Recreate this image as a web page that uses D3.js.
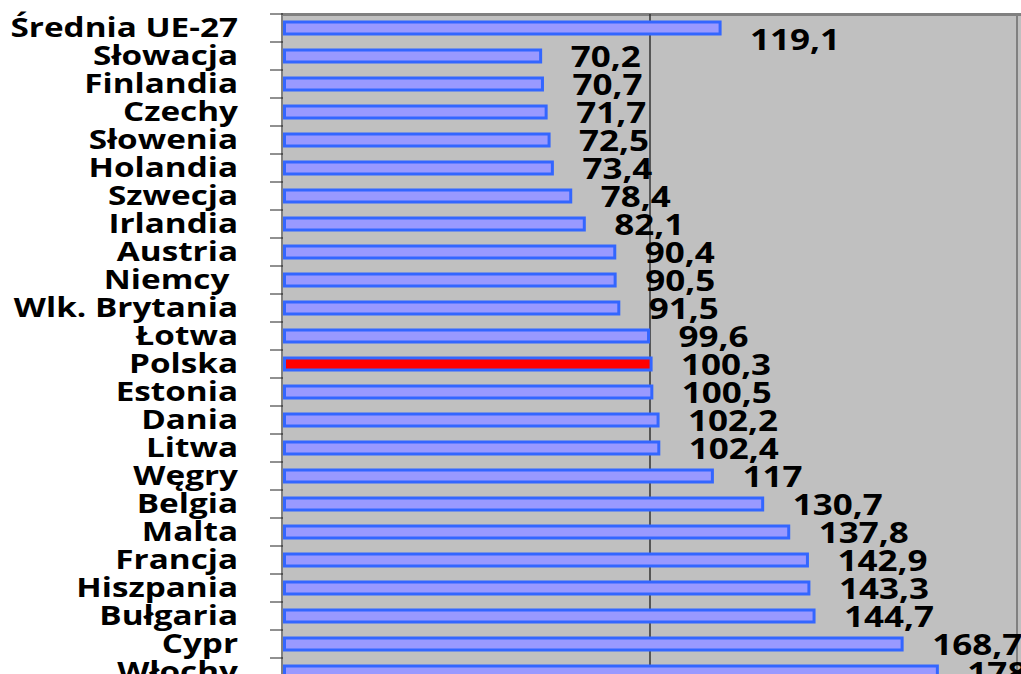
<!DOCTYPE html>
<html>
<head>
<meta charset="utf-8">
<script src="https://cdn.jsdelivr.net/npm/d3@7"></script>
<style>
  body { margin: 0; background: #fff; overflow: hidden; }
  svg text { font-family: "Open Sans", sans-serif; font-weight: 700; fill: #000; white-space: pre; }
</style>
</head>
<body>
<svg id="chart"></svg>
<script>
const countries = ['Średnia UE-27', 'Słowacja', 'Finlandia', 'Czechy', 'Słowenia', 'Holandia',
  'Szwecja', 'Irlandia', 'Austria', 'Niemcy ', 'Wlk. Brytania', 'Łotwa', 'Polska', 'Estonia',
  'Dania', 'Litwa', 'Węgry', 'Belgia', 'Malta', 'Francja', 'Hiszpania', 'Bułgaria', 'Cypr', 'Włochy']
const values = [119.1, 70.2, 70.7, 71.7, 72.5, 73.4, 78.4, 82.1, 90.4, 90.5, 91.5, 99.6, 100.3,
  100.5, 102.2, 102.4, 117, 130.7, 137.8, 142.9, 143.3, 144.7, 168.7, 178.3]
const gridValues = [100, 200]
const highlight = 'Polska'

const data = countries.map((c, i) => ({ name: c, value: values[i] }))

const width = 1021, height = 674

const svg = d3.select('#chart').attr('width', width).attr('height', height)

// scales
const x = d3.scaleLinear().domain([0, 200]).range([283, 1017])
const y = d3.scaleBand().domain(countries).range([14, 14 + 28 * countries.length])
const mid = d => y(d.name) + y.bandwidth() / 2

// plot background
svg.append('rect')
  .attr('x', x(0)).attr('y', 14)
  .attr('width', width - x(0)).attr('height', height - 14)
  .attr('fill', '#c0c0c0')

svg.append('rect')
  .attr('x', x(0)).attr('y', 13)
  .attr('width', width - x(0)).attr('height', 3)
  .attr('fill', '#808080')

// grid lines
svg.selectAll('.grid')
  .data(gridValues)
  .enter().append('line')
    .attr('class', 'grid')
    .attr('x1', d => x(d)).attr('x2', d => x(d))
    .attr('y1', 14).attr('y2', height)
    .attr('stroke', d => d === 100 ? '#333' : '#808080')
    .attr('stroke-width', d => d === 100 ? 1.5 : 2)

// left axis line + ticks between categories
svg.append('line')
  .attr('x1', x(0) - 1).attr('x2', x(0) - 1)
  .attr('y1', 13).attr('y2', height)
  .attr('stroke', '#808080').attr('stroke-width', 2)

const tickPos = countries.map(c => y(c)).concat([y.range()[1]])
svg.selectAll('.tick')
  .data(tickPos)
  .enter().append('line')
    .attr('class', 'tick')
    .attr('x1', 270).attr('x2', x(0))
    .attr('y1', d => d).attr('y2', d => d)
    .attr('stroke', '#222').attr('stroke-width', 1)

// bars
svg.selectAll('.bar')
  .data(data)
  .enter().append('rect')
    .attr('class', 'bar')
    .attr('x', x(0) + 1.5)
    .attr('y', d => mid(d) - 6)
    .attr('width', d => x(d.value) - x(0) - 1.5)
    .attr('height', 12)
    .attr('fill', d => d.name === highlight ? '#ff0000' : '#9999ff')
    .attr('stroke', '#3366ff')
    .attr('stroke-width', 3)

// category labels (source text is stretched sideways)
svg.selectAll('.cat')
  .data(data)
  .enter().append('text')
    .attr('class', 'cat')
    .attr('transform', d => 'translate(238,' + (mid(d) + 9) + ') scale(1.28,1)')
    .attr('text-anchor', 'end')
    .style('font-size', '26px')
    .text(d => d.name)

// value labels
svg.selectAll('.val')
  .data(data)
  .enter().append('text')
    .attr('class', 'val')
    .attr('transform', (d, i) => 'translate(' + (x(d.value) + 30) + ',' +
      (mid(d) + (i === 0 ? 22 : 11)) + ') scale(1.25,1)')
    .style('font-size', '28px')
    .text(d => String(d.value).replace('.', ','))
</script>
</body>
</html>
